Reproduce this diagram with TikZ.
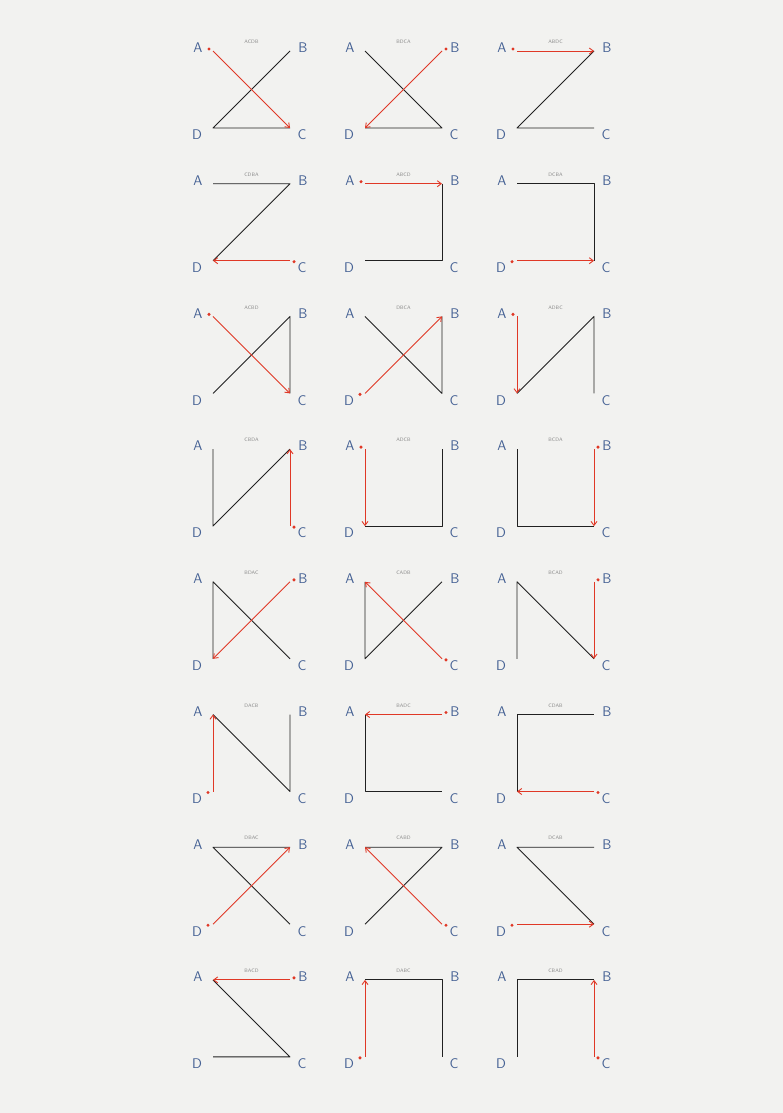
\documentclass[tikz,border=0pt]{standalone}
\usetikzlibrary{arrows.meta}
\definecolor{paper}{rgb}{0.95,0.95,0.94}
\definecolor{ink}{rgb}{0.13,0.13,0.13}
\definecolor{redink}{rgb}{0.88,0.22,0.15}
\definecolor{blueink}{rgb}{0.27,0.38,0.58}
\definecolor{faint}{rgb}{0.55,0.55,0.55}
\tikzset{
  blackline/.style={draw=ink, line width=0.9pt, line join=round},
  redarrow/.style={draw=redink, line width=0.9pt, -{Straight Barb[length=4pt,width=6pt]}},
  startdot/.style={circle, fill=redink, inner sep=0pt, minimum size=3.4pt},
  corner/.style={font=\sffamily\fontsize{14}{14}\selectfont, text=blueink, inner sep=0pt},
  perm/.style={font=\sffamily\fontsize{5}{5}\selectfont, text=faint, inner sep=0pt},
}
\begin{document}
\begin{tikzpicture}[x=1pt,y=-1pt]
\fill[paper] (0,0) rectangle (783,1113);
\useasboundingbox (0,0) rectangle (783,1113);
\foreach \i/\c/\r/\p/\q/\s/\t in {
  1/0/0/A/C/D/B, 2/1/0/B/D/C/A, 3/2/0/A/B/D/C,
  4/0/1/C/D/B/A, 5/1/1/A/B/C/D, 6/2/1/D/C/B/A,
  7/0/2/A/C/B/D, 8/1/2/D/B/C/A, 9/2/2/A/D/B/C,
  10/0/3/C/B/D/A, 11/1/3/A/D/C/B, 12/2/3/B/C/D/A,
  13/0/4/B/D/A/C, 14/1/4/C/A/D/B, 15/2/4/B/C/A/D,
  16/0/5/D/A/C/B, 17/1/5/B/A/D/C, 18/2/5/C/D/A/B,
  19/0/6/D/B/A/C, 20/1/6/C/A/B/D, 21/2/6/D/C/A/B,
  22/0/7/B/A/C/D, 23/1/7/D/A/B/C, 24/2/7/C/B/A/D}{
  \pgfmathsetmacro\xl{213+152*\c}
  \pgfmathsetmacro\xr{\xl+77}
  \pgfmathsetmacro\yt{51+132.7*\r}
  \pgfmathsetmacro\yb{\yt+77}
  \coordinate (A\i) at (\xl,\yt);
  \coordinate (B\i) at (\xr,\yt);
  \coordinate (C\i) at (\xr,\yb);
  \coordinate (D\i) at (\xl,\yb);
  \coordinate (oA\i) at (\xl-4,\yt-2);
  \coordinate (oB\i) at (\xr+4,\yt-2);
  \coordinate (oC\i) at (\xr+4,\yb+1);
  \coordinate (oD\i) at (\xl-5,\yb+1);
  \node[corner] (lA\i) at (\xl-15,\yt-3) {A};
  \node[corner] (lB\i) at (\xr+13,\yt-3) {B};
  \node[corner] (lC\i) at (\xr+12,\yb+7) {C};
  \node[corner] (lD\i) at (\xl-16,\yb+7) {D};
  \node[perm] (t\i) at ({(\xl+\xr)/2},\yt-9) {\p\q\s\t};
  \draw[blackline] (\q\i) -- (\s\i) -- (\t\i);
  \draw[redarrow] (\p\i) -- (\q\i);
  \node[startdot] (s\i) at (o\p\i) {};
}
\end{tikzpicture}
\end{document}
